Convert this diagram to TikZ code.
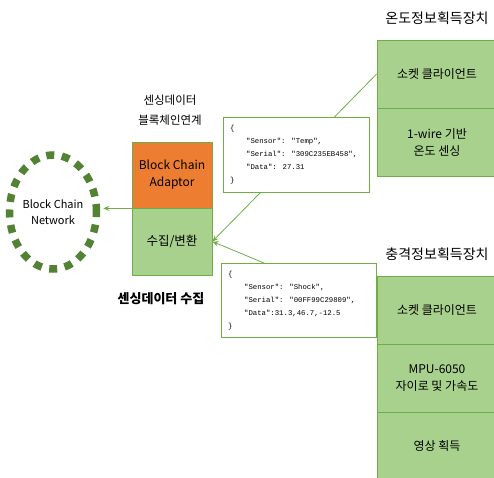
\documentclass[tikz,border=0pt]{standalone}
\usepackage{fontspec}
\setmainfont{Noto Sans CJK KR}
\newfontfamily\monof{Liberation Mono}
\usetikzlibrary{arrows.meta,shapes.geometric}
\definecolor{gfill}{HTML}{A9D18E}
\definecolor{gline}{HTML}{70AD47}
\definecolor{orng}{HTML}{ED7D31}
\definecolor{dgreen}{HTML}{548235}
\begin{document}
\begin{tikzpicture}[x=1pt,y=-1pt,
  cell/.style={draw=gline,fill=gfill,line width=0.8pt,inner sep=0pt,align=center,
    font=\fontsize{12}{17}\selectfont},
  ocell/.style={cell,fill=orng},
  grp/.style={font=\fontsize{14}{17}\selectfont,inner sep=0pt},
  jbox/.style={draw=gline,fill=white,line width=0.8pt,inner sep=0pt},
  jtext/.style={anchor=north west,inner sep=0pt,align=left,font=\monof\fontsize{7.3}{13}\selectfont},
  conn/.style={draw=gline,line width=0.8pt,-{Stealth[length=6pt,width=5pt]}}
]
\useasboundingbox (0,0) rectangle (494,477);
\clip (0,0) rectangle (494,477);

% block chain network
\node[ellipse,draw=dgreen,line width=7.5pt,dash pattern=on 8pt off 7.6pt,
  minimum width=87pt,minimum height=114pt,inner sep=0pt,align=center,
  font=\fontsize{11}{16}\selectfont] (net) at (53,212) {Block Chain\\Network};

% adaptor
\node[ocell,minimum width=80pt,minimum height=66pt] (adp) at (172,175) {Block Chain\\Adaptor};
\node[cell,minimum width=80pt,minimum height=67pt,font=\fontsize{12.5}{17}\selectfont] (conv) at (172,241.5) {수집/변환};
\node[inner sep=0pt,align=center,font=\fontsize{11.5}{20}\selectfont] (adplbl) at (170,110) {센싱데이터\\블록체인연계};
\node[inner sep=0pt,font=\bfseries\fontsize{13}{16}\selectfont] (collect) at (161,299) {센싱데이터 수집};

% temperature device
\node[grp] (tlbl) at (437,18) {온도정보획득장치};
\node[cell,minimum width=120pt,minimum height=68pt] (sock1) at (437,74) {소켓 클라이언트};
\node[cell,minimum width=120pt,minimum height=68pt] (wire) at (437,142) {1-wire 기반\\온도 센싱};

% shock device
\node[grp] (slbl) at (437,254) {충격정보획득장치};
\node[cell,minimum width=120pt,minimum height=68pt] (sock2) at (437,310) {소켓 클라이언트};
\node[cell,minimum width=120pt,minimum height=68pt] (mpu) at (437,378) {MPU-6050\\자이로 및 가속도};
\node[cell,minimum width=120pt,minimum height=68pt] (video) at (437,446) {영상 획득};

% connectors
\draw[conn] (sock1.west) -- (conv.east);
\draw[conn] (sock2.west) -- (conv.east);
\draw[conn,shorten >=3pt] (adp.south west) -- (adp.south west -| net.east);

% json boxes
\node[jbox,minimum width=146pt,minimum height=75pt] (j1) at (296,154.5) {};
\node[jtext] (j1t) at (230,125.5) {\{\\\hspace*{16pt}"Sensor": "Temp",\\\hspace*{16pt}"Serial": "309C235EB458",\\\hspace*{16pt}"Data": 27.31\\\}};
\node[jbox,minimum width=155pt,minimum height=74pt] (j2) at (298.5,300) {};
\node[jtext] (j2t) at (228,271.5) {\{\\\hspace*{16pt}"Sensor": "Shock",\\\hspace*{16pt}"Serial": "00FF99C29809",\\\hspace*{16pt}"Data":31.3,46.7,-12.5\\\}};
\end{tikzpicture}
\end{document}
